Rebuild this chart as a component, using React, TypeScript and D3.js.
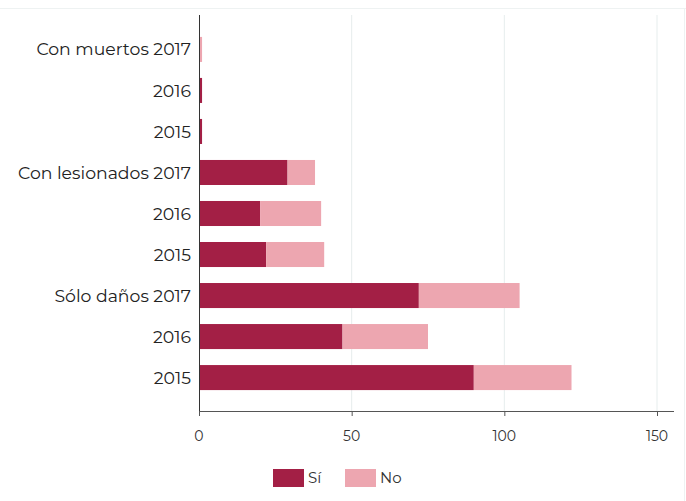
import React from "react";
import * as d3 from "d3";

const categories = [
  "Con muertos 2017",
  "2016",
  "2015",
  "Con lesionados 2017",
  "2016",
  "2015",
  "Sólo daños 2017",
  "2016",
  "2015",
];
const siValues = [0, 1, 1, 29, 20, 22, 72, 47, 90];
const noValues = [1, 0, 0, 9, 20, 19, 33, 28, 32];
const xTicks = [0, 50, 100, 150];
const seriesNames = ["Sí", "No"];
const colors = ["#a31f45", "#eda6b0"];

const W = 686;
const H = 501;
const left = 199;
const top = 15;
const bottom = 411;
const xEnd = 674;

export default function App() {
  const x = d3.scaleLinear().domain([0, 150]).range([left, 657]);
  const idx = categories.map((_, i) => String(i));
  const y = d3
    .scaleBand<string>()
    .domain(idx)
    .range([top + 1, bottom])
    .paddingInner(0.39)
    .paddingOuter(0.51);
  const font = "Montserrat, 'Open Sans', Lato, sans-serif";
  return (
    <svg
      width={W}
      height={H}
      style={{ position: "absolute", left: 0, top: 0, background: "#fff" }}
      fontFamily={font}
    >
      <line x1={0} x2={W} y1={8.5} y2={8.5} stroke="#eef2f2" />
      <line x1={684.5} x2={684.5} y1={8} y2={H} stroke="#eef2f2" />
      {xTicks.slice(1).map((t) => (
        <line key={t} x1={x(t)} x2={x(t)} y1={top} y2={bottom} stroke="#e6eded" strokeWidth={1} />
      ))}
      {categories.map((c, i) => {
        const yy = y(String(i))!;
        const bw = y.bandwidth();
        return (
          <g key={i}>
            <rect x={x(0)} y={yy} width={x(siValues[i]) - x(0)} height={bw} fill={colors[0]} />
            <rect
              x={x(siValues[i])}
              y={yy}
              width={x(siValues[i] + noValues[i]) - x(siValues[i])}
              height={bw}
              fill={colors[1]}
            />
            <text
              x={191}
              y={yy + bw / 2}
              dy="0.35em"
              textAnchor="end"
              fontSize={17.3}
              fill="#222"
            >
              {c}
            </text>
          </g>
        );
      })}
      <line x1={left + 0.5} x2={left + 0.5} y1={top} y2={bottom + 5} stroke="#333" />
      <line x1={left} x2={xEnd} y1={bottom + 0.5} y2={bottom + 0.5} stroke="#555" />
      {xTicks.map((t) => (
        <g key={t}>
          <line x1={x(t) + 0.5} x2={x(t) + 0.5} y1={bottom} y2={bottom + 5} stroke="#555" />
          <text x={x(t)} y={441} textAnchor="middle" fontSize={14} fill="#333">
            {t}
          </text>
        </g>
      ))}
      {seriesNames.map((s, i) => {
        const lx = i === 0 ? 273 : 345;
        return (
          <g key={s}>
            <rect x={lx} y={469} width={31} height={18} fill={colors[i]} />
            <text x={lx + 35} y={483} fontSize={15} fill="#333">
              {s}
            </text>
          </g>
        );
      })}
    </svg>
  );
}
